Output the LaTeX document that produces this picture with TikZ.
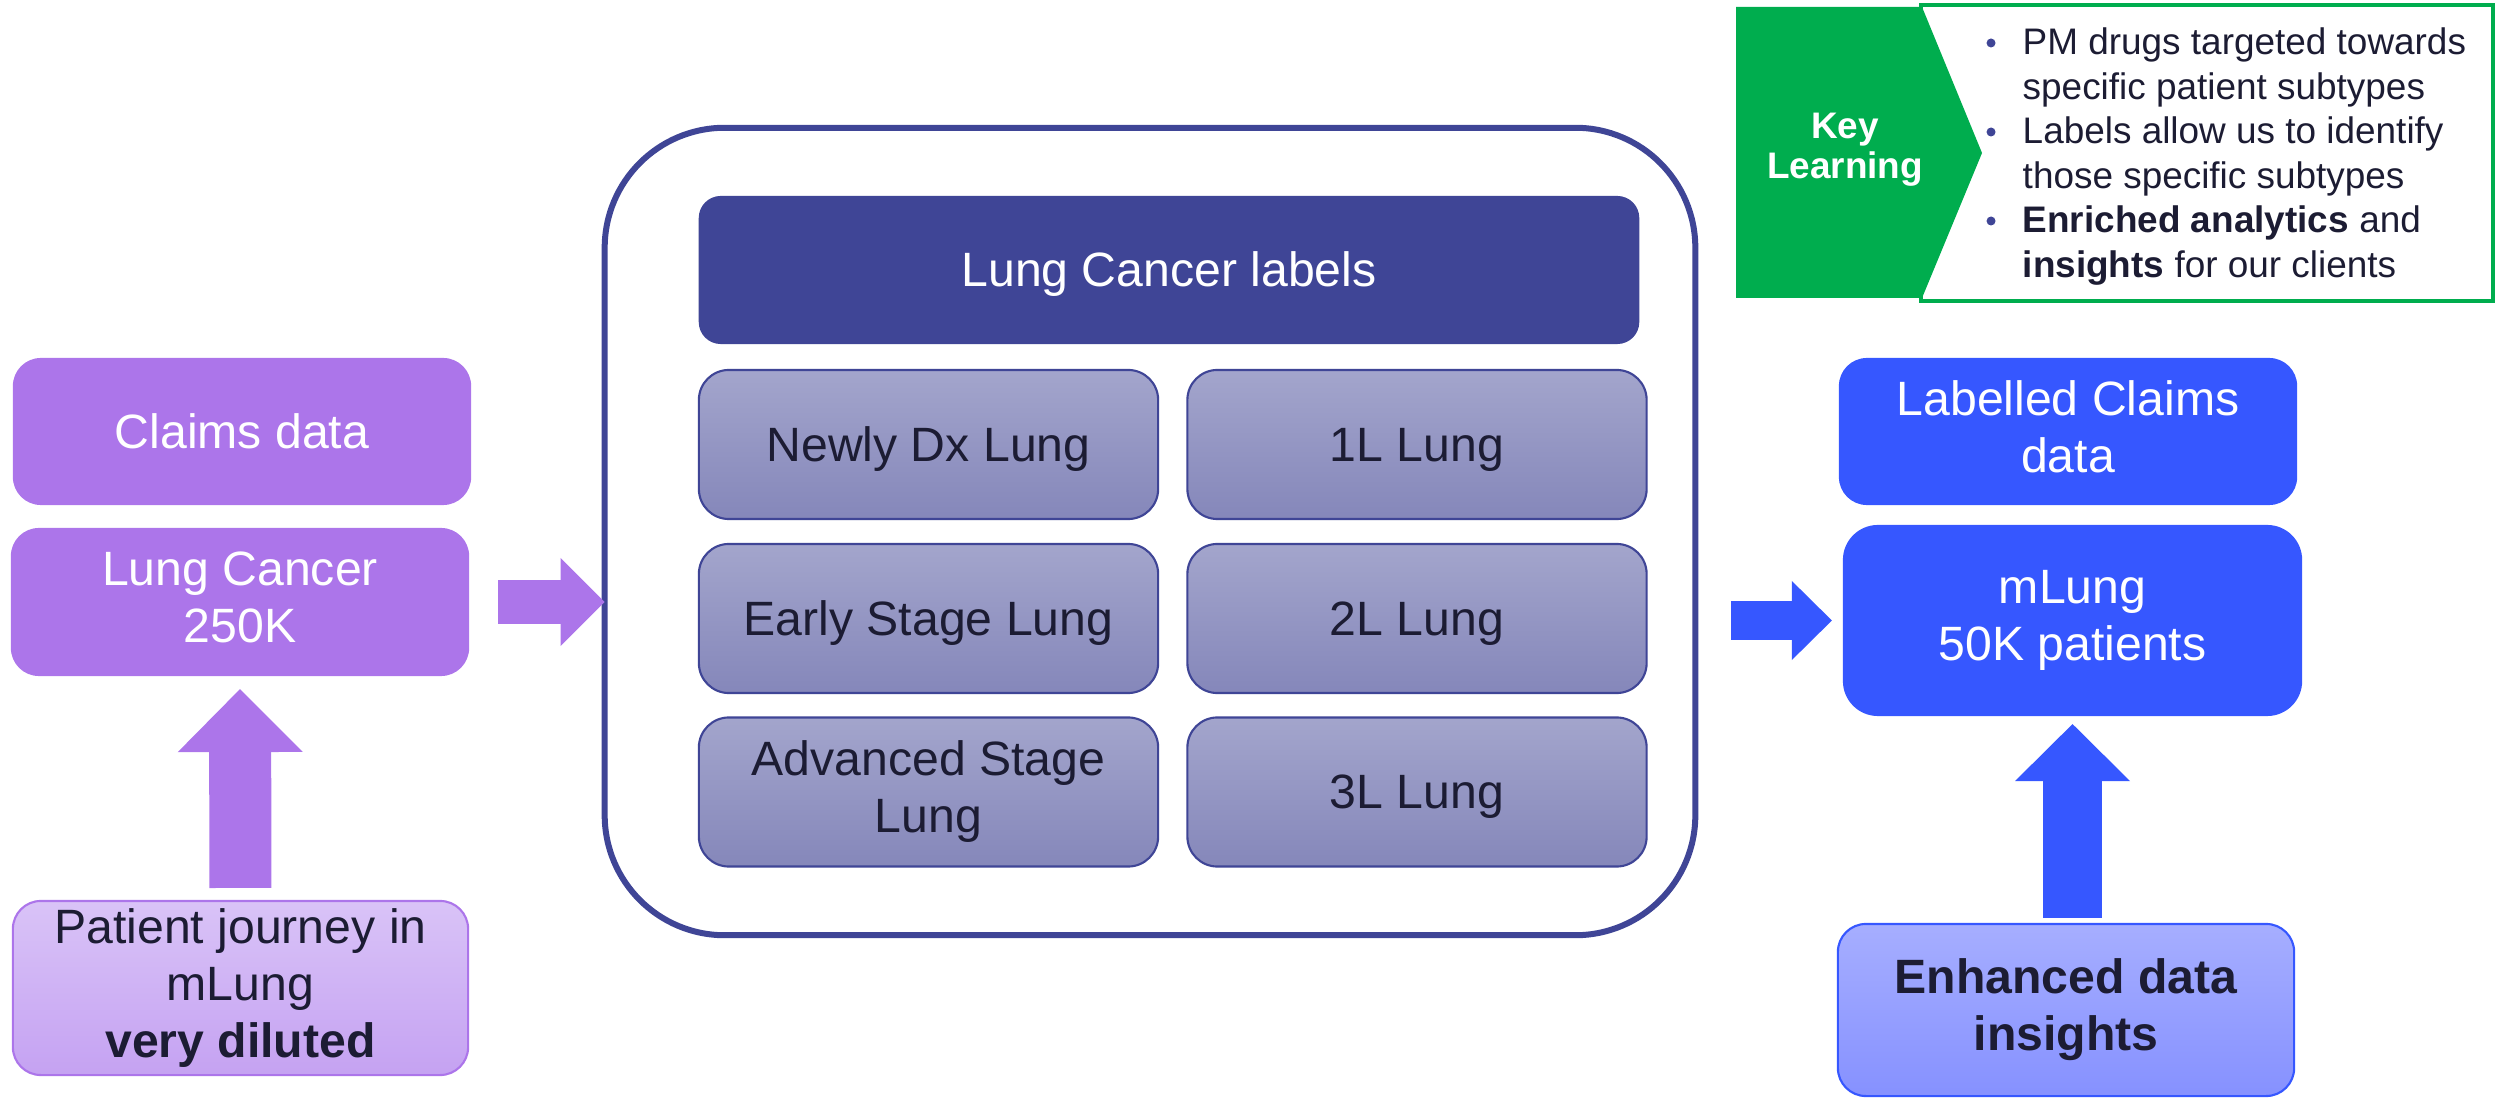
\documentclass[tikz,border=0pt]{standalone}
\usepackage{fontspec}
\setmainfont{Liberation Sans}
\usetikzlibrary{arrows.meta}

\definecolor{purp}{HTML}{AC75EA}
\definecolor{purplt}{HTML}{D9C3F7}
\definecolor{purpmd}{HTML}{C5A2F2}
\definecolor{navy}{HTML}{3F4596}
\definecolor{rowtop}{HTML}{A3A5CC}
\definecolor{rowbot}{HTML}{8587BA}
\definecolor{blu}{HTML}{3657FF}
\definecolor{blult}{HTML}{A6AEFF}
\definecolor{blumd}{HTML}{8691FF}
\definecolor{grn}{HTML}{00AD4E}
\definecolor{ink}{HTML}{1C1C33}

\newcommand{\bigtxt}{\fontsize{13.7}{16.2}\selectfont}
\newcommand{\kltxt}{\fontsize{10.5}{12.6}\selectfont}

\tikzset{
  pptline/.style={execute at begin node={\rule{0pt}{0.905em}},
    execute at end node={\rule[-0.212em]{0pt}{0pt}}},
  box/.style={rounded corners=0.28cm, align=center, inner sep=0pt, outer sep=0pt, font=\bigtxt, pptline},
  purpbox/.style={box, fill=purp, text=white, minimum width=4.58cm},
  blubox/.style={box, fill=blu, text=white, minimum width=4.58cm},
  rowbox/.style={box, rounded corners=0.3cm, draw=navy, line width=0.6pt,
    top color=rowtop, bottom color=rowbot, text=ink, minimum width=4.59cm, minimum height=1.49cm},
  blockarr/.style n args={3}{line width=#1, -{Triangle[width=#2, length=#3, line width=0pt]}}
}

\begin{document}
\begin{tikzpicture}[x=0.01cm, y=-0.01cm]
\useasboundingbox (0,0) rectangle (2498,1098);

% left column
\node[purpbox, minimum height=1.47cm] (claims) at (242,431.5) {Claims data};
\node[purpbox, minimum height=1.48cm] (lungc) at (240,602) {Lung Cancer\\250K};
\node[box, draw=purp, line width=0.6pt, top color=purplt, bottom color=purpmd, text=ink,
  minimum width=4.55cm, minimum height=1.74cm] (patient) at (240.5,988)
  {Patient journey in\\mLung\\\textbf{very diluted}};

% labels block
\node[draw=navy, line width=0.06cm, rounded corners=1.2cm, fill=white, outer sep=0pt,
  minimum width=10.9cm, minimum height=8.07cm] (labels) at (1150,531.5) {};
\node[box, fill=navy, text=white, rounded corners=0.22cm, minimum width=9.4cm,
  minimum height=1.48cm] (hdr) at (1169,270) {Lung Cancer labels};
\foreach \r/\cy/\lt/\rt in {1/444.5/{Newly Dx Lung}/{1L Lung},
    2/618.5/{Early Stage Lung}/{2L Lung}, 3/792/{Advanced Stage\\Lung}/{3L Lung}} {
  \node[rowbox] (l\r) at (928.5,\cy) {\lt};
  \node[rowbox] (r\r) at (1417,\cy) {\rt};
}

% right column
\node[blubox, minimum height=1.47cm] (lclaims) at (2068,431.5) {Labelled Claims\\data};
\node[blubox, rounded corners=0.35cm, minimum width=4.59cm, minimum height=1.91cm]
  (mlung) at (2072.5,620.5) {mLung\\50K patients};
\node[box, draw=blu, line width=0.6pt, top color=blult, bottom color=blumd, text=ink,
  minimum width=4.56cm, minimum height=1.72cm, font=\bigtxt\bfseries] (enhanced) at (2066,1010)
  {Enhanced data\\insights};

% block arrows
\draw[purp, blockarr={0.62cm}{1.25cm}{0.63cm}, shorten <=0.13cm, shorten >=0.13cm]
  (patient.north) -- (lungc.south);
\draw[purp, blockarr={0.44cm}{0.88cm}{0.44cm}, shorten <=0.29cm]
  (lungc.east) -- (lungc.east -| labels.west);
\draw[blu, blockarr={0.39cm}{0.79cm}{0.40cm}, shorten <=0.36cm, shorten >=0.11cm]
  (mlung.west -| labels.east) -- (mlung.west);
\draw[blu, blockarr={0.59cm}{1.15cm}{0.57cm}, shorten <=0.06cm, shorten >=0.08cm]
  (mlung.south |- enhanced.north) -- (mlung.south);

% key learning
\draw[grn, line width=0.035cm] (1921,5) rectangle (2493,301);
\fill[grn] (1736,7) -- (1922,7) -- (1982,153) -- (1922,298) -- (1736,298) -- cycle;
\node[font=\bfseries\fontsize{10.5}{11.4}\selectfont, text=white, align=center, pptline] (key)
  at (1845,150) {Key\\Learning};
\foreach \i/\ln in {0/{PM drugs targeted towards}, 1/{specific patient subtypes},
    2/{Labels allow us to identify}, 3/{those specific subtypes},
    4/{\textbf{Enriched analytics} and}, 5/{\textbf{insights} for our clients}}
  \node[anchor=base west, inner sep=0pt, font=\kltxt, text=ink] (kl\i) at (2022,{55+44.5*\i}) {\ln};
\foreach \i in {0,2,4}
  \fill[navy] (1991,{43+44.5*\i}) circle (0.045cm);
\end{tikzpicture}
\end{document}
